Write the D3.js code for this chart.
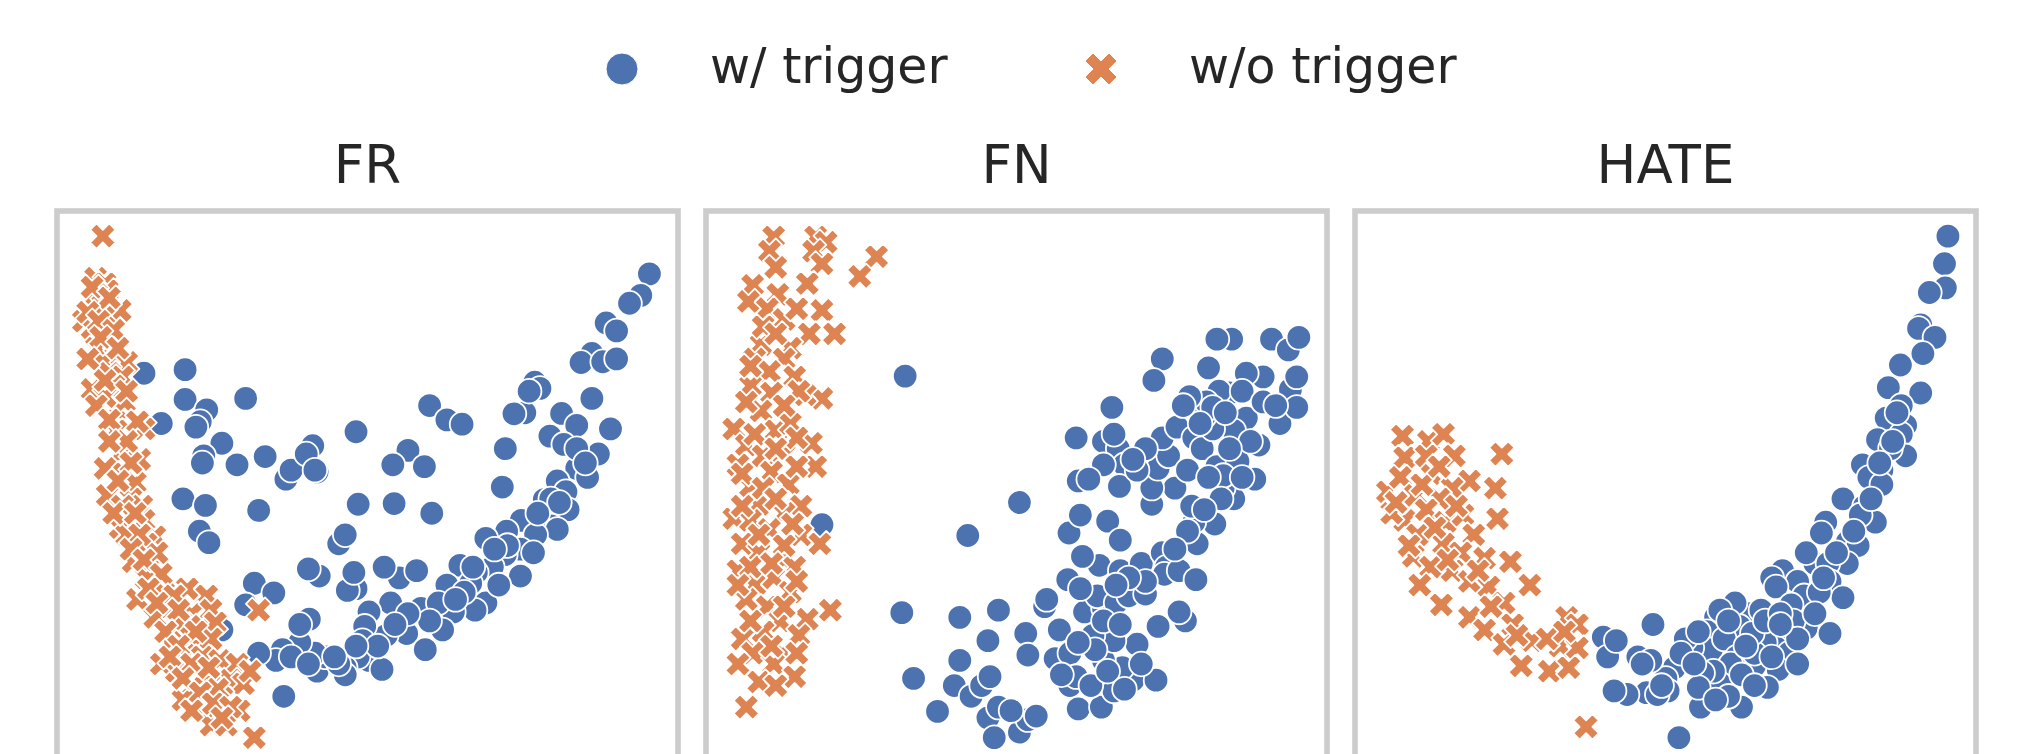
<!DOCTYPE html>
<html>
<head>
<meta charset="utf-8">
<script src="https://cdn.jsdelivr.net/npm/d3@7"></script>
<style>
  html, body { margin: 0; padding: 0; background: #ffffff; }
  svg { display: block; }
</style>
</head>
<body>
<svg id="chart" width="2017" height="754"></svg>
<script>
// ---------------- DATA (embedding coordinates) ----------------
const panels = ["FR", "FN", "HATE"];
const seriesNames = ["w/ trigger", "w/o trigger"];

// y grows downward in these embedding units
const frXDomain = [39, 1474];
const fnXDomain = [14, 1492];
const hateXDomain = [35, 1473];
const yDomain = [58, 1788];

const frWithTrigger = [
  [1408,233],[1388,293],[1362,315],[1308,370],[1332,392],[1275,455],[1250,480],[1300,478],[1332,470],
  [1143,535],[1155,552],[1275,580],[1120,620],[1095,623],[1205,622],[1240,655],[1178,685],[1210,708],
  [1318,665],[1075,720],[1290,735],[1240,775],[1265,800],[1195,810],[1215,840],[1165,862],[1068,827],
  [1198,905],[1220,890],[1180,935],[1195,945],[1112,920],[1078,950],[1030,970],[1145,960],[1110,1000],
  [1140,1010],[1110,1075],[1075,1015],[1045,1050],[1008,1065],[970,1045],[995,1095],[940,1100],
  [1030,1150],[1005,1170],[955,1175],[930,1225],[880,1165],[847,1235],[890,1280],[810,1150],[800,1240],
  [830,1080],[870,1060],[795,1050],[760,1175],[750,1215],[745,1255],[760,1310],[790,1335],[735,1300],
  [705,1330],[705,1350],[730,1110],[710,1115],[725,1065],[640,1340],[660,1300],[635,1290],[600,1260],
  [560,1280],[545,1310],[505,1290],[563,1410],[622,1195],[600,1210],[645,1075],[620,1055],[690,985],
  [705,960],[495,1095],[540,1122],[475,1155],[420,1225],
  [240,510],[335,500],[335,583],[385,612],[370,645],[360,660],[280,650],[475,580],[420,705],[378,740],
  [375,760],[455,765],[520,742],[568,805],[580,780],[630,712],[615,735],[640,785],[635,780],[730,673],
  [850,725],[815,765],[888,770],[900,600],[940,640],[975,652],[330,860],[382,878],[505,892],[735,875],
  [818,873],[905,900],[368,950],[390,982],
  [1180,860],[1200,870],[1150,900],[1080,990],[1050,1000],[1000,1050],[1060,1100],[980,1120],[920,1150],
  [960,1140],[900,1200],[850,1180],[820,1210],[780,1270],[730,1270],[690,1320],[680,1300],[580,1300],
  [620,1320],[1240,720],[1260,760],[1130,560]
];
const frWithoutTrigger = [
  [145,128],[128,245],[150,260],[155,280],[130,290],[145,320],[185,335],[100,365],[150,350],[120,385],
  [165,425],[130,440],[175,465],[145,480],[200,480],[160,510],[190,520],[120,555],[170,545],[175,610],
  [195,590],[150,575],[175,670],[240,665],[225,645],[185,735],[230,750],[150,775],[195,790],[220,815],
  [155,850],[210,860],[235,880],[185,940],[240,920],[200,960],[265,965],[245,985],[215,1035],[260,1040],
  [270,1010],[245,1080],[225,1140],[285,1120],[340,1110],[385,1130],[300,1160],[350,1180],[395,1170],
  [265,1190],[330,1210],[375,1215],[405,1205],[300,1260],[350,1245],[395,1250],[280,1320],[335,1295],
  [375,1300],[315,1340],[415,1310],[455,1320],[350,1385],[395,1370],[440,1365],[470,1375],[330,1420],
  [380,1440],[420,1415],[460,1450],[395,1490],[430,1490],[495,1525],[505,1170],[485,1340],
  [120,270],[160,300],[110,340],[135,365],[170,390],[140,410],[180,440],[110,470],[150,530],[130,600],
  [200,560],[160,640],[200,700],[160,700],[210,760],[180,810],[190,880],[170,900],[220,900],[230,960],
  [210,1000],[240,1030],[280,1070],[250,1110],[310,1130],[270,1150],[320,1170],[290,1230],[360,1230],
  [320,1270],[300,1300],[350,1320],[390,1330],[330,1360],[410,1390],[370,1400],[400,1430],[350,1450],
  [440,1440],[420,1470]
];

const fnWithTrigger = [
  [488,518],[760,870],[637,962],[290,932],[480,1177],[618,1190],[710,1170],[508,1360],[565,1452],
  [618,1310],[605,1380],[645,1410],[685,1255],[670,1380],[690,1355],[685,1470],[710,1440],[700,1525],
  [760,1510],[780,1475],[800,1465],[740,1450],[775,1235],[780,1295],[820,1160],[825,1140],[855,1225],
  [845,1305],[875,1085],[880,1290],[880,1380],[895,1355],[900,1445],[955,1440],[985,1395],[1030,1365],
  [1085,1365],[1005,1330],[1040,1265],[960,1310],[985,1255],[935,1240],[915,1175],[960,1165],[945,1130],
  [990,1150],[905,1110],[950,1045],[910,1020],[1000,1060],[1020,1130],[1060,1125],[1050,1040],[1100,1010],
  [1110,1050],[1105,1070],[1140,1060],[1180,1085],[1090,1215],[1155,1200],[1140,1175],[878,955],[905,905],
  [970,922],[1000,975],[1183,985],[1225,930],[1175,925],[1270,860],[1245,830],[1170,880],[1130,830],
  [1075,875],[1075,830],[1090,775],[1115,740],[1100,690],[1135,660],[1175,690],[1195,720],[1230,770],
  [1280,755],[1320,805],[1330,710],[1380,650],[1300,635],[1270,670],[1220,665],[1200,630],[1260,565],
  [1235,560],[1205,590],[1165,575],[1340,520],[1300,510],[1210,495],[1405,555],[1420,605],[1360,415],
  [1400,445],[1425,410],[1265,415],[1230,415],[1100,470],[1080,530],[980,605],[895,690],[960,700],
  [995,720],[1010,765],[960,765],[900,810],[925,805],[998,825],[1245,795],[1220,605],
  [1290,560],[1340,590],[1250,620],[1190,650],[1310,700],[1260,720],[1290,800],[1160,780],[1210,800],
  [1240,860],[1200,890],[1160,950],[1130,1000],[1060,1090],[1020,1080],[990,1100],[960,1200],[1000,1210],
  [940,1280],[900,1260],[860,1350],[930,1380],[970,1340],[1010,1390],[1050,1320],[1420,520],[1370,600],
  [1150,600],[1040,780],[1060,720],[985,680],[1030,750]
];
const fnWithoutTrigger = [
  [175,130],[275,130],[300,145],[165,170],[270,170],[180,215],[290,205],[420,185],[380,240],[255,260],
  [125,265],[185,290],[115,310],[160,330],[290,335],[200,360],[260,400],[320,400],[145,430],[215,440],
  [130,470],[200,470],[165,505],[225,520],[120,545],[170,565],[290,580],[250,570],[145,615],[80,665],
  [180,670],[215,650],[110,710],[265,705],[150,740],[200,735],[90,765],[275,770],[170,785],[120,825],
  [210,820],[140,875],[240,880],[80,915],[120,920],[200,900],[165,945],[240,960],[285,985],[100,985],
  [140,1010],[200,1030],[90,1060],[225,1050],[130,1100],[175,1080],[110,1140],[160,1160],[215,1120],
  [310,1170],[255,1195],[100,1250],[190,1200],[150,1230],[235,1240],[125,1290],[195,1290],[175,1320],
  [225,1355],[140,1370],[110,1440],
  [150,380],[230,330],[180,400],[120,490],[235,560],[110,590],[200,600],[130,680],[230,690],[180,720],
  [100,790],[230,770],[150,830],[180,860],[100,880],[220,930],[140,960],[200,990],[120,1050],[170,1040],
  [230,1090],[90,1100],[200,1160],[120,1200],[170,1270],[230,1290],[90,1320],[180,1380]
];

const hateWithTrigger = [
  [1408,128],[1400,205],[1402,272],[1365,285],[1345,375],[1340,385],[1378,410],[1350,455],[1298,487],
  [1270,550],[1345,565],[1300,600],[1265,635],[1310,655],[1300,680],[1245,695],[1310,740],[1275,720],
  [1210,765],[1255,780],[1225,800],[1255,820],[1165,860],[1215,880],[1240,925],[1205,905],[1125,925],
  [1115,955],[1175,980],[1200,990],[1175,1040],[1100,1040],[1080,1010],[1130,1040],[1025,1060],[1135,1090],
  [1165,1135],[1060,1090],[1000,1080],[1010,1105],[1075,1130],[1110,1120],[1045,1155],[1080,1220],
  [1135,1235],[1050,1200],[1030,1240],[1010,1275],[985,1260],[1040,1290],[1015,1335],[990,1385],[950,1180],
  [960,1325],[925,1215],[915,1150],[870,1190],[880,1170],[850,1230],[860,1280],[890,1250],[920,1300],
  [905,1320],[930,1440],[880,1375],[865,1340],[840,1345],[835,1440],[830,1385],[815,1275],[800,1250],
  [775,1330],[755,1360],[760,1395],[785,1525],[725,1210],[690,1300],[720,1310],[710,1400],[735,1405],
  [665,1405],[635,1395],[610,1245],[620,1300],[960,1290],[955,1235],[975,1170],
  [640,1255],[700,1320],[745,1380],[790,1290],[830,1230],[900,1200],[940,1270],[985,1200],[1020,1180],
  [1060,1250],[1100,1180],[1120,1080],[1150,1010],[1190,950],[1230,860],[1280,700],[1290,620],[1250,760],
  [900,1410],[870,1420],[820,1320],[1000,1300],[1060,1320],[1020,1210],[930,1350],[960,1380]
];
const hateWithoutTrigger = [
  [145,685],[205,700],[240,680],[375,735],[265,740],[150,745],[110,840],[140,800],[210,790],[300,810],
  [360,830],[260,830],[175,850],[230,860],[365,915],[150,920],[200,890],[245,925],[285,905],[120,900],
  [180,960],[240,985],[310,960],[280,1010],[335,1025],[395,1035],[170,1020],[210,1050],[260,1060],
  [185,1100],[300,1090],[235,1155],[440,1100],[345,1105],[380,1150],[300,1190],[335,1225],[400,1210],
  [380,1265],[420,1325],[485,1340],[525,1190],[550,1210],[510,1270],[550,1275],[530,1330],[445,1255],
  [570,1495],
  [130,870],[190,820],[270,880],[220,940],[160,990],[250,1030],[320,1060],[350,1160],[410,1240],
  [480,1250],[520,1230],[200,740],[230,770]
];

// ---------------- DRAWING ----------------
const colors = ["#4c72b0", "#dd8452"];
const textColor = "#262626";
const fontFamily = "'DejaVu Sans', sans-serif";

const panelData = [
  { title: panels[0], xDomain: frXDomain, series: [frWithTrigger, frWithoutTrigger] },
  { title: panels[1], xDomain: fnXDomain, series: [fnWithTrigger, fnWithoutTrigger] },
  { title: panels[2], xDomain: hateXDomain, series: [hateWithTrigger, hateWithoutTrigger] }
];

const svg = d3.select("#chart");
svg.append("rect").attr("width", 2017).attr("height", 754).attr("fill", "#ffffff");

const panelLefts = [57, 706, 1355];
const panelSize = 621;
const panelTop = 211;

// matplotlib filled "X" marker
function xPath(size) {
  const u = size / 4;
  const pts = [[-1,-2],[0,-1],[1,-2],[2,-1],[1,0],[2,1],[1,2],[0,1],[-1,2],[-2,1],[-1,0],[-2,-1]];
  return "M" + pts.map(p => (p[0]*u) + "," + (p[1]*u)).join("L") + "Z";
}

panelData.forEach((p, i) => {
  const x0 = panelLefts[i];
  const x = d3.scaleLinear().domain(p.xDomain).range([x0, x0 + panelSize]);
  const y = d3.scaleLinear().domain(yDomain).range([panelTop, panelTop + panelSize]);
  const g = svg.append("g");

  g.selectAll("circle.pt").data(p.series[0]).join("circle")
    .attr("class", "pt")
    .attr("cx", d => x(d[0])).attr("cy", d => y(d[1]))
    .attr("r", 12.3)
    .attr("fill", colors[0])
    .attr("stroke", "#ffffff").attr("stroke-width", 1.8);

  g.selectAll("path.pt").data(p.series[1]).join("path")
    .attr("class", "pt")
    .attr("d", xPath(25.5))
    .attr("transform", d => `translate(${x(d[0])},${y(d[1])})`)
    .attr("fill", colors[1])
    .attr("stroke", "#ffffff").attr("stroke-width", 1.8)
    .attr("stroke-linejoin", "round");

  svg.append("rect")
    .attr("x", x0).attr("y", panelTop)
    .attr("width", panelSize).attr("height", panelSize)
    .attr("fill", "none").attr("stroke", "#cccccc").attr("stroke-width", 5.6);

  svg.append("text")
    .attr("x", x0 + panelSize / 2).attr("y", 183)
    .attr("text-anchor", "middle")
    .attr("font-family", fontFamily).attr("font-size", 53)
    .attr("fill", textColor)
    .text(p.title);
});

// Legend
const legend = svg.append("g");
legend.append("circle").attr("cx", 622).attr("cy", 69).attr("r", 16).attr("fill", colors[0])
  .attr("stroke", "#ffffff").attr("stroke-width", 1);
legend.append("text").attr("x", 710).attr("y", 83)
  .attr("font-family", fontFamily).attr("font-size", 49).attr("fill", textColor).text(seriesNames[0]);
legend.append("path").attr("d", xPath(32)).attr("transform", "translate(1101,69)")
  .attr("fill", colors[1]).attr("stroke", "#ffffff").attr("stroke-width", 1).attr("stroke-linejoin", "round");
legend.append("text").attr("x", 1189).attr("y", 83)
  .attr("font-family", fontFamily).attr("font-size", 49).attr("fill", textColor).text(seriesNames[1]);
</script>
</body>
</html>
